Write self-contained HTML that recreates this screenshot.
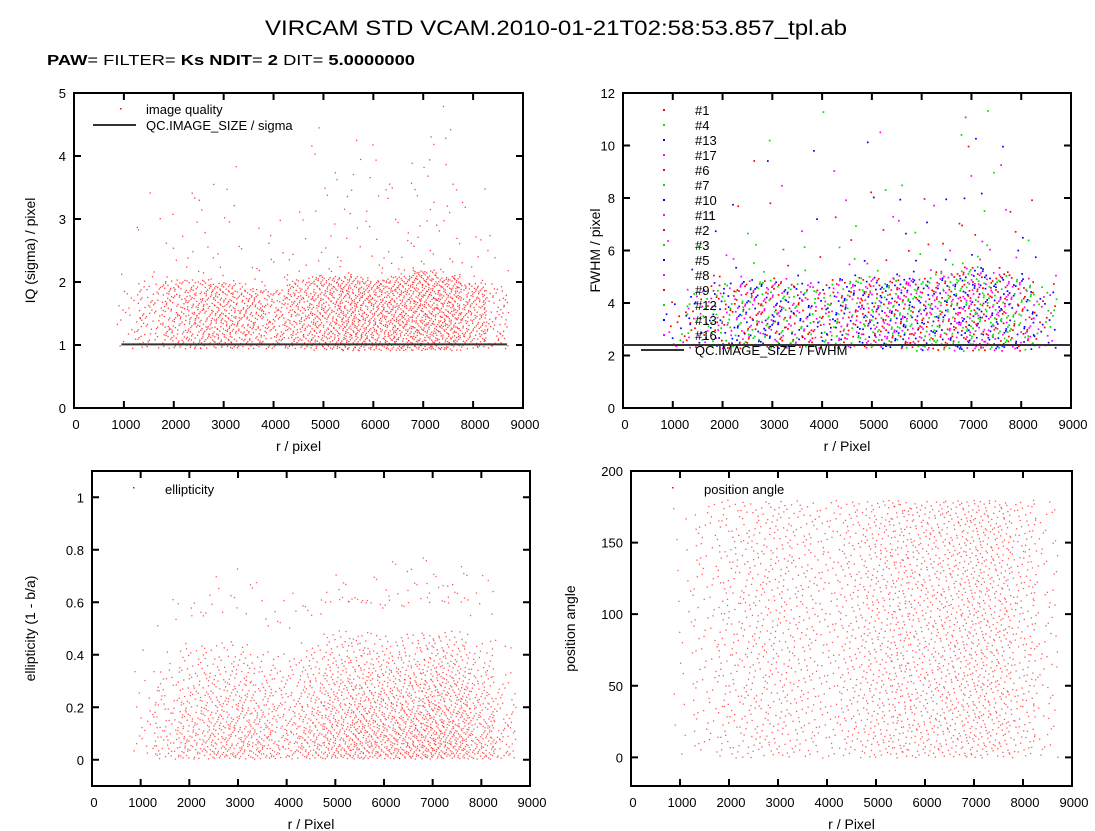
<!DOCTYPE html>
<html><head><meta charset="utf-8">
<style>
html,body{margin:0;padding:0;background:#fff;}
svg{display:block;font-family:"Liberation Sans",sans-serif;}
</style></head>
<body>
<svg id="root" width="1095" height="831" viewBox="0 0 1095 831">
<text x="556" y="35" text-anchor="middle" font-size="21.5" textLength="582" lengthAdjust="spacingAndGlyphs">VIRCAM STD VCAM.2010-01-21T02:58:53.857_tpl.ab</text>
<text x="47" y="65" font-size="15" textLength="368" lengthAdjust="spacingAndGlyphs"><tspan font-weight="bold">PAW</tspan>=  <tspan>FILTER</tspan>= <tspan font-weight="bold">Ks NDIT</tspan>= <tspan font-weight="bold">2</tspan> DIT= <tspan font-weight="bold">5.0000000</tspan></text>
<g id="p1"></g>
<g id="p2"></g>
<g id="p3"></g>
<g id="p4"></g>
</svg>
<script>
// ---- data (counts per 500-px radius bin, y spread per bin) ----
const binCenters = [1100,1500,2000,2500,3000,3500,4000,4500,5000,5500,6000,6500,7000,7500,8000,8450];
const iqCounts   = [25,70,130,170,180,150,120,170,220,260,240,260,300,270,170,70];
const iqLow      = [0.95,0.95,0.95,0.95,0.95,0.95,0.95,0.95,0.92,0.92,0.92,0.92,0.92,0.92,0.95,0.95];
const iqHigh     = [1.9,2.0,2.05,2.05,2.0,1.9,1.9,2.05,2.1,2.1,2.05,2.1,2.2,2.1,2.0,1.9];
const iqTailTop  = [3.1,3.5,3.5,3.5,4.2,3.0,3.0,3.2,4.8,4.4,4.2,3.6,4.5,4.8,3.6,2.9];
const fwhmCounts = [20,50,85,110,115,95,85,110,130,140,130,140,175,150,105,45];
const fwhmLow    = [2.3,2.3,2.3,2.3,2.3,2.3,2.3,2.3,2.3,2.3,2.2,2.2,2.2,2.2,2.2,2.3];
const fwhmHigh   = [4.2,4.6,4.8,4.9,4.9,4.8,4.8,5.0,5.0,5.0,5.0,5.2,5.4,5.2,5.0,4.5];
const fwhmTailTop= [7.3,8.0,8.2,9.5,11.8,7.2,11.8,8.0,10.9,10.0,8.4,8.0,11.5,11.5,8.4,6.8];
const ellCounts  = [25,70,130,160,170,150,120,170,220,260,240,260,300,270,170,70];
const ellHigh    = [0.42,0.5,0.55,0.55,0.55,0.5,0.5,0.55,0.6,0.6,0.58,0.58,0.6,0.6,0.55,0.42];
const ellTailTop = [0.45,0.62,0.62,0.72,0.73,0.69,0.68,0.62,0.75,0.62,0.76,0.74,0.8,0.74,0.76,0.57];
const paCounts   = [25,70,130,160,170,150,120,170,220,260,240,260,300,270,170,70];
const paHigh     = [180,180,180,180,180,180,180,180,180,180,180,180,180,180,180,180];
const fwhmLegend = ["#1","#4","#13","#17","#6","#7","#10","#11","#2","#3","#5","#8","#9","#12","#13","#16"];
const fwhmColors = ["#ff0000","#00dd00","#0000ff","#ff00ff"];
const iqRefLine  = [950,8680,1.01];
const fwhmRef    = 2.4;

const NS="http://www.w3.org/2000/svg";
function mk(tag,attrs,parent){const e=document.createElementNS(NS,tag);for(const k in attrs)e.setAttribute(k,attrs[k]);parent.appendChild(e);return e;}
function halton(i,b){let f=1,r=0;while(i>0){f/=b;r+=f*(i%b);i=Math.floor(i/b);}return r;}

function panel(g,box,xr,yr,yticks,xlabel,ylabel,ylabx){
  const [L,T,R,B]=box;
  const sx=v=>L+(v-xr[0])/(xr[1]-xr[0])*(R-L);
  const sy=v=>B-(v-yr[0])/(yr[1]-yr[0])*(B-T);
  const fr=mk('rect',{x:L,y:T,width:R-L,height:B-T,fill:'none',stroke:'#000','stroke-width':2},g);
  
  
  for(let v=0;v<=9000;v+=1000){
    const x=sx(v);
    const t=mk('path',{d:`M${x},${B}v-7M${x},${T}v7`,stroke:'#000','stroke-width':2},g);
    
    
    const l=mk('text',{x:x+2,y:B+21,'text-anchor':'middle','font-size':13},g);l.textContent=v;
    
    
  }
  yticks.forEach(v=>{
    const y=sy(v);
    const t=mk('path',{d:`M${L},${y}h7M${R},${y}h-7`,stroke:'#000','stroke-width':2},g);
    
    
    const l=mk('text',{x:L-8,y:y+5,'text-anchor':'end','font-size':13},g);l.textContent=v;
    
    
  });
  const xl=mk('text',{x:(L+R)/2,y:B+43,'text-anchor':'middle','font-size':14},g);xl.textContent=xlabel;
  
  
  const yl=mk('text',{x:0,y:0,'text-anchor':'middle','font-size':14,transform:`translate(${ylabx},${(T+B)/2}) rotate(-90)`},g);yl.textContent=ylabel;
  
  
  return {sx,sy};
}

function scatter(g,ax,counts,lowArr,highArr,tailArr,tailFrac,shape,size,colorFn,opacity,seed){
  let idx=seed;
  binCenters.forEach((c,bi)=>{
    for(let k=0;k<counts[bi];k++){
      idx++;
      const u=halton(idx,3),v=halton(idx,5),w=halton(idx,7);
      const xv=c-250+u*500;
      let yv;
      if(w<tailFrac){yv=highArr[bi]+(tailArr[bi]-highArr[bi])*Math.pow(v,1.6);}
      else{const vv=shape==='tri'?1-Math.sqrt(1-v*0.97):v;yv=lowArr[bi]+(highArr[bi]-lowArr[bi])*vv;}
      const r=mk('rect',{x:ax.sx(xv).toFixed(1),y:ax.sy(yv).toFixed(1),width:size,height:size,fill:colorFn(idx),'fill-opacity':opacity},g);
      
      
    }
  });
}

// Panel 1
const g1=document.getElementById('p1');
const a1=panel(g1,[74,93,523,408],[0,9000],[0,5],[0,1,2,3,4,5],'r / pixel','IQ (sigma) / pixel',35);
scatter(g1,a1,iqCounts,iqLow,iqHigh,iqTailTop,0.065,'lin',1.3,()=>'#ff0000',0.75,10);
const rl1=mk('line',{x1:a1.sx(iqRefLine[0]),x2:a1.sx(iqRefLine[1]),y1:a1.sy(iqRefLine[2]),y2:a1.sy(iqRefLine[2]),stroke:'#333','stroke-width':2},g1);


{const d=mk('rect',{x:120,y:108,width:1.5,height:1.5,fill:'#f00'},g1);
 const t=mk('text',{x:146,y:114,'font-size':13},g1);t.textContent='image quality';
 const l=mk('line',{x1:93,x2:136,y1:125,y2:125,stroke:'#333','stroke-width':2},g1);
 const t2=mk('text',{x:146,y:130,'font-size':13},g1);t2.textContent='QC.IMAGE_SIZE / sigma';}

// Panel 2
const g2=document.getElementById('p2');
const a2=panel(g2,[623,93,1071,408],[0,9000],[0,12],[0,2,4,6,8,10,12],'r / Pixel','FWHM / pixel',600);
scatter(g2,a2,fwhmCounts,fwhmLow,fwhmHigh,fwhmTailTop,0.07,'lin',1.7,(i)=>fwhmColors[Math.floor(halton(i,11)*4)],1,500);
const rl2=mk('line',{x1:623,x2:1071,y1:a2.sy(fwhmRef),y2:a2.sy(fwhmRef),stroke:'#333','stroke-width':2},g2);


fwhmLegend.forEach((s,i)=>{
  const y=110+i*15;
  const d=mk('rect',{x:663,y:y-1,width:2,height:2,fill:fwhmColors[i%4]},g2);
  
  
  const t=mk('text',{x:695,y:y+5,'font-size':13},g2);t.textContent=s;
  
  
});
{const l=mk('line',{x1:641,x2:684,y1:350,y2:350,stroke:'#333','stroke-width':2},g2);
 const t=mk('text',{x:695,y:355,'font-size':13},g2);t.textContent='QC.IMAGE_SIZE / FWHM';}

// Panel 3
const g3=document.getElementById('p3');
const a3=panel(g3,[92,471,530,786],[0,9000],[-0.1,1.1],[0,0.2,0.4,0.6,0.8,1],'r / Pixel','ellipticity (1 - b/a)',35);
const ellLow=binCenters.map(()=>0.005);
scatter(g3,a3,ellCounts,ellLow,ellHigh,ellTailTop,0.04,'tri',1.3,()=>'#ff0000',0.65,1200);
{const d=mk('rect',{x:133,y:487,width:1.5,height:1.5,fill:'#f00'},g3);
 const t=mk('text',{x:165,y:494,'font-size':13},g3);t.textContent='ellipticity';}

// Panel 4
const g4=document.getElementById('p4');
const a4=panel(g4,[631,471,1072,786],[0,9000],[-20,200],[0,50,100,150,200],'r / Pixel','position angle',575);
const paLow=binCenters.map(()=>0);
scatter(g4,a4,paCounts,paLow,paHigh,paHigh,0,'lin',1.3,()=>'#ff0000',0.65,3000);
{const d=mk('rect',{x:672,y:487,width:1.5,height:1.5,fill:'#f00'},g4);
 const t=mk('text',{x:704,y:494,'font-size':13},g4);t.textContent='position angle';}
</script>
</body></html>
